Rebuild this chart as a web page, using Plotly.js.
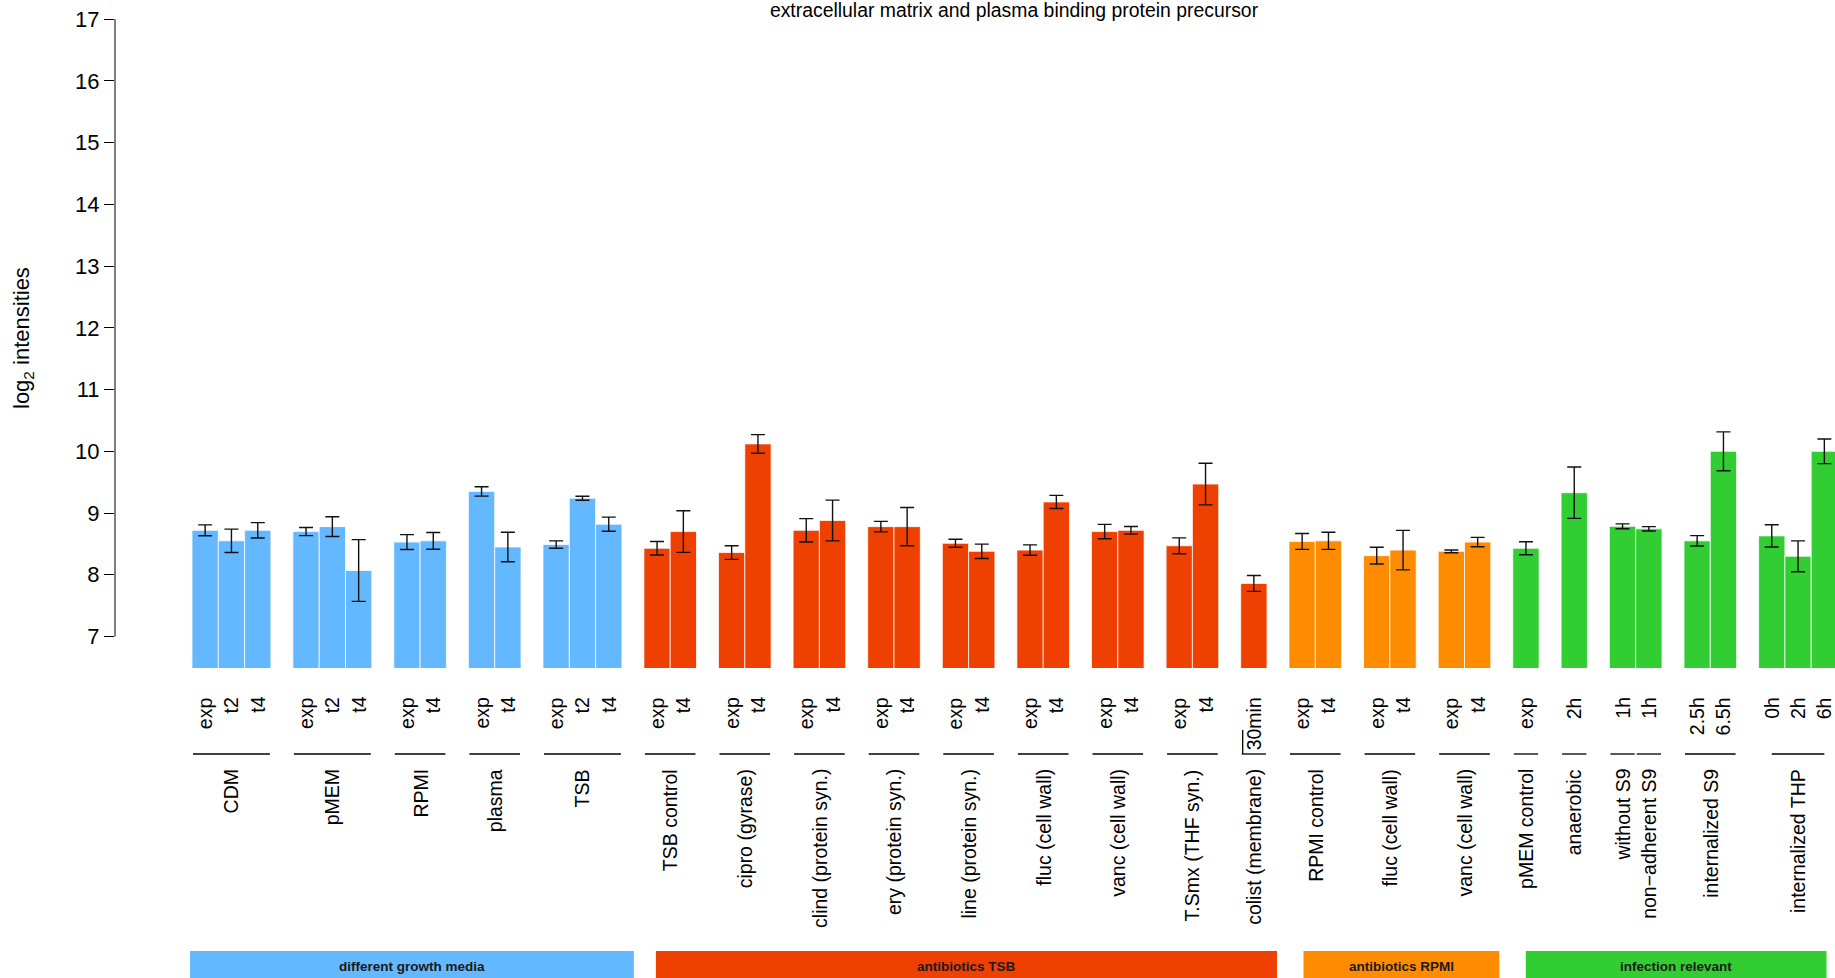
<!DOCTYPE html>
<html>
<head>
<meta charset="utf-8">
<script src="https://cdn.plot.ly/plotly-3.0.1.min.js"></script>
<style>
  html, body { margin: 0; padding: 0; background: #fff; }
  #chart { width: 1835px; height: 978px; }
</style>
</head>
<body>
<div id="chart"></div>
<script>
// ---------------- data ----------------
const chartTitle = 'extracellular matrix and plasma binding protein precursor';
const yTitle = 'log<sub>2</sub> intensities';
const yTicks = [7, 8, 9, 10, 11, 12, 13, 14, 15, 16, 17];

const sections = ['different growth media', 'antibiotics TSB', 'antibiotics RPMI', 'infection relevant'];
const sectionColors = ['#63B8FF', '#EE4000', '#FF8C00', '#32CD32'];

const groupNames = ['CDM', 'pMEM', 'RPMI', 'plasma', 'TSB',
  'TSB control', 'cipro (gyrase)', 'clind (protein syn.)', 'ery (protein syn.)',
  'line (protein syn.)', 'fluc (cell wall)', 'vanc (cell wall)', 'T.Smx (THF syn.)', 'colist (membrane)',
  'RPMI control', 'fluc (cell wall)', 'vanc (cell wall)',
  'pMEM control', 'anaerobic', 'without S9', 'non\u2212adherent S9', 'internalized S9', 'internalized THP'];
const groupSection = [0, 0, 0, 0, 0, 1, 1, 1, 1, 1, 1, 1, 1, 1, 2, 2, 2, 3, 3, 3, 3, 3, 3];
// groups drawn directly against the previous one (no spacing)
const joinedToPrevious = [false, false, false, false, false, false, false, false, false, false, false, false,
  false, false, false, false, false, false, false, false, true, false, false];
// groups whose underline carries a small tick at its left end
const underlineTick = [false, false, false, false, false, false, false, false, false, false, false, false,
  false, true, false, false, false, false, false, false, false, false, false];

const subLabels = [
  ['exp', 't2', 't4'], ['exp', 't2', 't4'], ['exp', 't4'], ['exp', 't4'], ['exp', 't2', 't4'],
  ['exp', 't4'], ['exp', 't4'], ['exp', 't4'], ['exp', 't4'], ['exp', 't4'], ['exp', 't4'], ['exp', 't4'],
  ['exp', 't4'], ['30min'],
  ['exp', 't4'], ['exp', 't4'], ['exp', 't4'],
  ['exp'], ['2h'], ['1h'], ['1h'], ['2.5h', '6.5h'], ['0h', '2h', '6h']];

const means = [
  [8.72, 8.55, 8.72], [8.70, 8.78, 8.07], [8.53, 8.55], [9.35, 8.45], [8.49, 9.24, 8.82],
  [8.43, 8.70], [8.36, 10.12], [8.72, 8.88], [8.78, 8.78], [8.51, 8.38], [8.40, 9.18], [8.70, 8.72],
  [8.47, 9.47], [7.86],
  [8.54, 8.55], [8.31, 8.40], [8.38, 8.53],
  [8.43], [9.33], [8.785], [8.745], [8.55, 10.00], [8.63, 8.30, 10.00]];

const sds = [
  [0.088, 0.19, 0.125], [0.065, 0.16, 0.50], [0.12, 0.136], [0.076, 0.24], [0.06, 0.033, 0.114],
  [0.11, 0.337], [0.11, 0.15], [0.19, 0.33], [0.085, 0.31], [0.065, 0.117], [0.084, 0.106], [0.117, 0.062],
  [0.128, 0.337], [0.128],
  [0.128, 0.139], [0.136, 0.32], [0.022, 0.076],
  [0.106], [0.416], [0.04], [0.035], [0.084, 0.315], [0.18, 0.25, 0.2]];

// ---------------- layout constants ----------------
const W = 1835, H = 978;
const M = { l: 115, r: 0, t: 8, b: 310 };
const PX_PER_BAR = 26.3;          // one bar = 1 x unit
const GAP = 22.0 / PX_PER_BAR;    // space between groups in bar units
const FIRST_BAR_PX = 192;          // left edge of the first bar (page px)
const Y_BOTTOM = 6.49;             // value at the bottom of the plot area
const PX_PER_UNIT_Y = 61.73;
const plotH = H - M.t - M.b;
const FONT = 'Liberation Sans, Arial, sans-serif';
const LABEL_SIZE = 19.5;
// band pixel offsets (start, end) relative to the section's first/last bar edges
const bandOffsetsPx = [[-2, 12], [12, 10], [14.5, 8.5], [13, -11]];

// ---------------- positions from structure ----------------
const barX = [];
const groupStart = [], groupEnd = [];
let pos = 0;
groupNames.forEach((g, gi) => {
  if (gi > 0 && !joinedToPrevious[gi]) pos += GAP;
  groupStart.push(pos);
  const xs = [];
  subLabels[gi].forEach(() => { xs.push(pos + 0.5); pos += 1; });
  groupEnd.push(pos);
  barX.push(xs);
});

const xLeft = -(FIRST_BAR_PX - M.l) / PX_PER_BAR;
const xRight = xLeft + (W - M.l - M.r) / PX_PER_BAR;
const yTop = Y_BOTTOM + plotH / PX_PER_UNIT_Y;

// ---------------- traces ----------------
const traces = sections.map((s, si) => {
  const x = [], y = [], e = [], t = [];
  groupNames.forEach((g, gi) => {
    if (groupSection[gi] !== si) return;
    barX[gi].forEach((xx, bi) => {
      x.push(xx); y.push(means[gi][bi]); e.push(sds[gi][bi]);
      t.push(g + ' ' + subLabels[gi][bi]);
    });
  });
  return {
    type: 'bar', name: s, x: x, y: y, text: t, hoverinfo: 'text+y', textposition: 'none',
    width: 1, base: 0,
    marker: { color: sectionColors[si], line: { color: 'rgba(255,255,255,0.75)', width: 1 } },
    error_y: { type: 'data', array: e, visible: true, color: '#111', thickness: 1.4, width: 7 },
    showlegend: false
  };
});

// ---------------- annotations & shapes ----------------
const annotations = [];
const shapes = [];

// y axis line only from first to last tick
shapes.push({ type: 'line', xref: 'paper', yref: 'y', x0: 0, x1: 0,
  y0: Math.min(...yTicks), y1: Math.max(...yTicks), line: { color: '#000', width: 1 } });

const base = H - M.b;
const SUB_TOP = 695 - base;
const LINE_Y = 754 - base;
const GROUP_TOP = 767 - base;
const BAND_TOP = 951 - base;
const BAND_BOTTOM = H - base;
const BAND_TEXT = 966 - base;
const TICK_LEN = 24;

groupNames.forEach((g, gi) => {
  barX[gi].forEach((xx, bi) => {
    annotations.push({ xref: 'x', yref: 'paper', x: xx, y: 0, yshift: -SUB_TOP,
      text: subLabels[gi][bi], textangle: -90, xanchor: 'center', yanchor: 'top', showarrow: false,
      font: { family: FONT, size: LABEL_SIZE, color: '#000' } });
  });
  // underline: full group width; a group cut by the right edge is underlined between bar centres
  const inset = 1 / PX_PER_BAR;
  const cut = groupEnd[gi] > xRight;
  const u0 = cut ? barX[gi][0] : groupStart[gi] + inset;
  const u1 = cut ? barX[gi][barX[gi].length - 1] : groupEnd[gi] - inset;
  shapes.push({ type: 'line', xref: 'x', yref: 'paper', ysizemode: 'pixel', yanchor: 0,
    x0: u0, x1: u1, y0: -LINE_Y, y1: -LINE_Y,
    line: { color: '#000', width: 1.3 } });
  if (underlineTick[gi]) {
    shapes.push({ type: 'line', xref: 'x', yref: 'paper', ysizemode: 'pixel', yanchor: 0,
      x0: u0 + 1 / PX_PER_BAR, x1: u0 + 1 / PX_PER_BAR, y0: -LINE_Y, y1: -LINE_Y + TICK_LEN,
      line: { color: '#000', width: 1.3 } });
  }
  annotations.push({ xref: 'x', yref: 'paper', x: (groupStart[gi] + groupEnd[gi]) / 2, y: 0, yshift: -GROUP_TOP,
    text: g, textangle: -90, xanchor: 'center', yanchor: 'top', showarrow: false,
    font: { family: FONT, size: LABEL_SIZE, color: '#000' } });
});

sections.forEach((s, si) => {
  const idx = groupSection.map((v, i) => v === si ? i : -1).filter(i => i >= 0);
  const x0 = groupStart[idx[0]] + bandOffsetsPx[si][0] / PX_PER_BAR;
  const x1 = groupEnd[idx[idx.length - 1]] + bandOffsetsPx[si][1] / PX_PER_BAR;
  shapes.push({ type: 'rect', xref: 'x', yref: 'paper', ysizemode: 'pixel', yanchor: 0,
    x0: x0, x1: x1, y0: -BAND_TOP, y1: -BAND_BOTTOM,
    fillcolor: sectionColors[si], line: { width: 0 } });
  annotations.push({ xref: 'x', yref: 'paper', x: (x0 + x1) / 2, y: 0, yshift: -BAND_TEXT,
    text: '<b>' + s + '</b>', xanchor: 'center', yanchor: 'middle', showarrow: false,
    font: { family: FONT, size: 13.5, color: '#1a1a1a' } });
});

// y title
annotations.push({ xref: 'paper', yref: 'paper', x: 0, y: 0.5, xshift: 23 - M.l,
  text: yTitle, textangle: -90, xanchor: 'center', yanchor: 'middle', showarrow: false,
  font: { family: FONT, size: 22, color: '#000' } });

const layout = {
  width: W, height: H,
  margin: M,
  paper_bgcolor: '#fff', plot_bgcolor: '#fff',
  barmode: 'overlay',
  title: { text: chartTitle, x: 1014 / W, xanchor: 'center', y: 1 - 3 / H, yanchor: 'top',
    pad: { t: 0, b: 0 }, font: { family: FONT, size: 19.4, color: '#000' } },
  xaxis: { range: [xLeft, xRight], visible: false, fixedrange: true },
  yaxis: { range: [Y_BOTTOM, yTop], tickvals: yTicks, ticktext: yTicks.map(String),
    ticks: 'outside', ticklen: 10, tickwidth: 1, tickcolor: '#000',
    showline: false, showgrid: false, zeroline: false, fixedrange: true,
    tickfont: { family: FONT, size: 22, color: '#000' } },
  annotations: annotations,
  shapes: shapes,
  font: { family: FONT }
};

Plotly.newPlot('chart', traces, layout, { displayModeBar: false, staticPlot: true });
</script>
</body>
</html>
